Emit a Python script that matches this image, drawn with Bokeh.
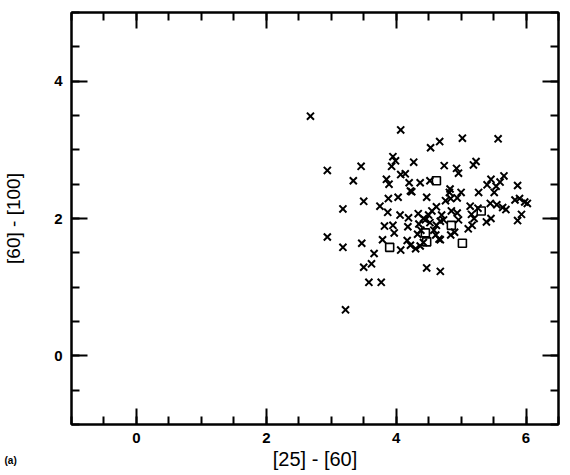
import numpy as np
from bokeh.plotting import figure
from bokeh.models import FixedTicker, LinearAxis, Range1d, Title
from bokeh.embed import file_html
from bokeh.resources import INLINE

# crosses: [25]-[60] colour and [60]-[100] colour
cross_x = [2.68, 4.07, 4.53, 4.67, 5.02, 5.57, 2.94, 3.46, 3.34, 3.95, 3.99, 3.93,
           4.27, 4.74, 4.93, 4.96, 5.19, 5.23, 3.85, 3.89, 4.07, 4.14, 4.20, 4.37,
           4.52, 4.22, 4.24, 4.83, 4.82, 5.00, 5.46, 5.66, 5.40, 5.54, 5.60, 5.87,
           5.27, 5.51, 3.50, 3.18, 3.75, 3.88, 4.03, 4.47, 4.76, 4.84, 4.94, 5.14,
           5.26, 5.16, 5.20, 4.62, 5.45, 5.55, 5.64, 5.69, 5.98, 6.02, 5.83, 5.90,
           5.93, 5.87, 5.39, 5.46, 5.11, 5.17, 4.50, 4.55, 4.70, 4.73, 4.85, 4.94,
           4.96, 4.52, 4.62, 4.68, 4.84, 4.90, 4.58, 4.61, 4.66, 4.68, 4.47, 4.68,
           3.87, 4.06, 4.19, 4.34, 4.42, 4.35, 4.45, 3.82, 3.95, 3.97, 4.18, 4.33,
           4.38, 2.94, 3.18, 3.47, 3.79, 3.66, 4.17, 4.22, 4.30, 4.37, 4.42, 4.07,
           3.50, 3.62, 3.58, 3.77, 3.22]
cross_y = [3.49, 3.29, 3.03, 3.12, 3.17, 3.16, 2.70, 2.76, 2.55, 2.90, 2.84, 2.76,
           2.82, 2.77, 2.73, 2.66, 2.78, 2.83, 2.57, 2.50, 2.64, 2.65, 2.52, 2.52,
           2.55, 2.40, 2.39, 2.43, 2.38, 2.38, 2.57, 2.62, 2.49, 2.47, 2.53, 2.48,
           2.38, 2.38, 2.25, 2.14, 2.18, 2.29, 2.31, 2.31, 2.26, 2.29, 2.30, 2.18,
           2.15, 2.06, 2.00, 2.17, 2.22, 2.20, 2.16, 2.13, 2.24, 2.22, 2.27, 2.29,
           2.06, 1.97, 1.95, 2.00, 1.85, 1.90, 2.05, 2.11, 2.05, 1.98, 2.11, 2.08,
           1.98, 1.94, 1.90, 1.96, 1.76, 1.80, 1.83, 1.76, 1.70, 1.69, 1.28, 1.23,
           2.09, 2.05, 2.01, 2.07, 2.00, 1.92, 1.98, 1.89, 1.90, 1.79, 1.88, 1.77,
           1.83, 1.73, 1.58, 1.64, 1.69, 1.49, 1.68, 1.61, 1.56, 1.60, 1.65, 1.54,
           1.29, 1.34, 1.07, 1.07, 0.67]

# open squares
square_x = [3.90, 4.45, 4.47, 4.62, 4.85, 5.02, 5.31]
square_y = [1.58, 1.79, 1.66, 2.55, 1.90, 1.64, 2.11]

x_major = [0, 2, 4, 6]
y_major = [0, 2, 4]
x_minor = list(np.arange(-1.0, 6.51, 0.5))
y_minor = list(np.arange(-1.0, 5.01, 0.5))

FONT = "Liberation Sans"

p = figure(width=566, height=475, x_range=Range1d(-1, 6.5), y_range=Range1d(-1, 5),
           output_backend="svg", toolbar_location=None,
           min_border_left=68, min_border_right=8, min_border_top=12, min_border_bottom=51)
p.background_fill_color = "white"
p.border_fill_color = "white"
p.outline_line_color = "black"
p.outline_line_width = 2
p.grid.visible = False

xt = FixedTicker(ticks=x_major, minor_ticks=x_minor)
yt = FixedTicker(ticks=y_major, minor_ticks=y_minor)

def style(ax, show_labels):
    ax.axis_line_color = "black"
    ax.axis_line_width = 2
    ax.major_tick_in = 16
    ax.major_tick_out = 0
    ax.minor_tick_in = 8
    ax.minor_tick_out = 0
    ax.major_tick_line_width = 2
    ax.minor_tick_line_width = 2
    ax.major_tick_line_color = "black"
    ax.minor_tick_line_color = "black"
    if show_labels:
        ax.major_label_text_font = FONT
        ax.major_label_text_font_size = "15px"
        ax.major_label_text_font_style = "bold"
        ax.major_label_text_color = "black"
        ax.axis_label_text_font = FONT
        ax.axis_label_text_font_style = "normal"
        ax.axis_label_text_color = "black"
    else:
        ax.major_label_text_font_size = "1px"
        ax.major_label_text_color = None
        ax.major_label_standoff = 0

xa = p.xaxis[0]
xa.ticker = xt
style(xa, True)
xa.axis_label = "[25] - [60]"
xa.axis_label_text_font_size = "20px"
xa.major_label_standoff = 8
xa.axis_label_standoff = 2

ya = p.yaxis[0]
ya.ticker = yt
style(ya, True)
ya.axis_label = "[60] - [100]"
ya.axis_label_text_font_size = "19px"
ya.major_label_standoff = 9
ya.axis_label_standoff = 27
ya.major_label_orientation = "horizontal"

top = LinearAxis(ticker=xt)
style(top, False)
p.add_layout(top, "above")
right = LinearAxis(ticker=yt)
style(right, False)
p.add_layout(right, "right")

p.scatter(cross_x, cross_y, marker="x", size=10, line_color="black", line_width=2)
p.scatter(square_x, square_y, marker="square", size=8, fill_color=None,
          line_color="black", line_width=1.6)

tag = Title(text="(a)", align="left", offset=-67, vertical_align="top", standoff=-36,
            text_font=FONT, text_font_size="10px", text_font_style="bold",
            text_color="black")
p.add_layout(tag, "below")

open("out.html", "w").write(file_html(p, INLINE))
